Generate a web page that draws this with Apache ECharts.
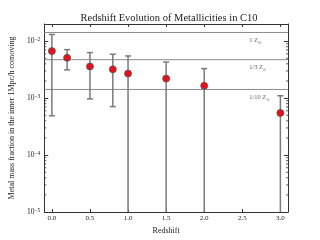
<!DOCTYPE html>
<html>
<head>
<meta charset="utf-8">
<script src="https://cdn.jsdelivr.net/npm/echarts@6/dist/echarts.min.js"></script>
<style>html,body{margin:0;padding:0;background:#fff}#c{width:320px;height:240px}</style>
</head>
<body>
<div id="c"></div>
<script>
// ---- data ----
const redshift = [0.0, 0.2, 0.5, 0.8, 1.0, 1.5, 2.0, 3.0];
const metalFraction = [0.0067, 0.0051, 0.0036, 0.0032, 0.0027, 0.0022, 0.00165, 0.00055];
const errUpper = [0.0131, 0.0071, 0.0063, 0.0059, 0.0055, 0.0043, 0.0033, 0.0011];
const errLower = [0.00049, 0.00313, 0.00097, 0.00071, 0, 0, 0, 0]; // 0 = extends below axis
const refLevels = [0.0142, 0.00473, 0.00142];
const refLabels = ['1 Z', '1/3 Z', '1/10 Z'];
const refLabelX = 2.59;
const minorTickValues = [];
[1e-5, 1e-4, 1e-3, 1e-2].forEach(d => { for (let k = 2; k <= 9; k++) { const v = d * k; if (v < 0.02) minorTickValues.push(v); } });

const X_MIN = -0.1, X_MAX = 3.1, Y_MIN = 1e-5, Y_MAX = 0.02;
const FONT = 'Liberation Serif';
const TXT = '#222';
const FRAME = '#333';

const chart = echarts.init(document.getElementById('c'), null, {renderer: 'canvas'});

const supFmt = v => {
  const e = Math.round(Math.log10(v));
  if (Math.abs(Math.log10(v) - e) > 1e-6) return '';
  return '{b|10}{s|' + (e < 0 ? '\u2212' : '') + Math.abs(e) + '}';
};

const axisCommon = {
  axisLine: {show: true, onZero: false, lineStyle: {color: FRAME, width: 1}},
  splitLine: {show: false}
};

const option = {
  animation: false,
  backgroundColor: '#fff',
  title: {
    text: 'Redshift Evolution of Metallicities in C10',
    left: 164, top: 8, textAlign: 'center',
    textStyle: {fontFamily: FONT, fontSize: 10.5, fontWeight: 'normal', color: TXT}
  },
  grid: {left: 40, right: 32, top: 24, bottom: 26},
  xAxis: [
    Object.assign({}, axisCommon, {
      type: 'value', min: X_MIN, max: X_MAX, minInterval: 0.5, maxInterval: 0.5,
      position: 'bottom',
      name: 'Redshift', nameLocation: 'middle', nameGap: 14,
      nameTextStyle: {fontFamily: FONT, fontSize: 8, color: TXT},
      axisTick: {inside: true, length: 3, lineStyle: {color: FRAME}},
      axisLabel: {showMinLabel: false, showMaxLabel: false, margin: 3, fontFamily: FONT, fontSize: 7, color: TXT,
        formatter: v => v.toFixed(1)}
    }),
    Object.assign({}, axisCommon, {
      type: 'value', min: X_MIN, max: X_MAX, minInterval: 0.5, maxInterval: 0.5,
      position: 'top',
      axisTick: {inside: true, length: 3, lineStyle: {color: FRAME}},
      axisLabel: {show: false}
    })
  ],
  yAxis: [
    Object.assign({}, axisCommon, {
      type: 'log', logBase: 10, min: Y_MIN, max: Y_MAX, position: 'left',
      name: 'Metal mass fraction in the inner 1Mpc/h comoving', nameLocation: 'middle', nameGap: 27,
      nameTextStyle: {fontFamily: FONT, fontSize: 8, color: TXT},
      axisTick: {inside: true, length: 4, lineStyle: {color: FRAME}},
      axisLabel: {showMaxLabel: false, margin: 4, formatter: supFmt,
        rich: {
          b: {fontFamily: FONT, fontSize: 7.5, color: TXT},
          s: {fontFamily: FONT, fontSize: 5.5, color: TXT, verticalAlign: 'bottom', padding: [0, 0, 4, 0]}
        }}
    }),
    Object.assign({}, axisCommon, {
      type: 'log', logBase: 10, min: Y_MIN, max: Y_MAX, position: 'right',
      axisTick: {inside: true, length: 4, lineStyle: {color: FRAME}},
      axisLabel: {show: false}
    })
  ],
  series: [
    {
      // reference metallicity lines
      type: 'custom', z: 1, silent: true, clip: true,
      data: refLevels.map(v => [v]),
      renderItem: (params, api) => {
        const v = api.value(0);
        const a = api.coord([X_MIN, v]), b = api.coord([X_MAX, v]);
        return {type: 'line', shape: {x1: a[0], y1: a[1], x2: b[0], y2: b[1]}, style: {stroke: '#8c8c8c', lineWidth: 1}};
      },
      encode: {y: 0}
    },
    {
      // reference labels
      type: 'scatter', symbolSize: 0, z: 4, silent: true,
      data: refLevels.map((v, i) => ({value: [refLabelX, v], name: refLabels[i]})),
      label: {
        show: true, position: 'inside', align: 'left', offset: [0, 8],
        formatter: p => p.name + '{sub|\u2299}',
        fontFamily: FONT, fontSize: 6.5, color: '#333',
        rich: {sub: {fontFamily: 'DejaVu Sans', fontSize: 4, color: '#333', verticalAlign: 'top', padding: [4, 0, 0, 0]}}
      }
    },
    {
      // minor ticks of the log axis (left and right)
      type: 'custom', z: 5, silent: true, clip: false,
      data: minorTickValues.map(v => [0, v]),
      renderItem: (params, api) => {
        const cs = params.coordSys;
        const y = api.coord([0, api.value(1)])[1];
        return {type: 'group', children: [
          {type: 'line', shape: {x1: cs.x, y1: y, x2: cs.x + 2, y2: y}, style: {stroke: FRAME, lineWidth: 0.8}},
          {type: 'line', shape: {x1: cs.x + cs.width - 2, y1: y, x2: cs.x + cs.width, y2: y}, style: {stroke: FRAME, lineWidth: 0.8}}
        ]};
      }
    },
    {
      // error bars
      type: 'custom', z: 2, silent: true, clip: true,
      data: redshift.map((z, i) => [z, errLower[i], errUpper[i]]),
      renderItem: (params, api) => {
        const x = api.value(0), lo = api.value(1), hi = api.value(2);
        const top = api.coord([x, hi]);
        const bot = api.coord([x, lo > 0 ? lo : Y_MIN / 10]);
        const st = {stroke: '#7a7a7a', lineWidth: 1.5};
        const cap = 3;
        const ch = [
          {type: 'line', shape: {x1: top[0], y1: top[1], x2: bot[0], y2: bot[1]}, style: st},
          {type: 'line', shape: {x1: top[0] - cap, y1: top[1], x2: top[0] + cap, y2: top[1]}, style: st}
        ];
        if (lo > 0) ch.push({type: 'line', shape: {x1: bot[0] - cap, y1: bot[1], x2: bot[0] + cap, y2: bot[1]}, style: st});
        return {type: 'group', children: ch};
      }
    },
    {
      // data points
      type: 'scatter', z: 3, symbol: 'circle', symbolSize: 7, silent: true,
      data: redshift.map((z, i) => [z, metalFraction[i]]),
      itemStyle: {color: '#e8101a', borderColor: '#555', borderWidth: 0.8, opacity: 1}
    }
  ]
};
chart.setOption(option);
</script>
</body>
</html>
